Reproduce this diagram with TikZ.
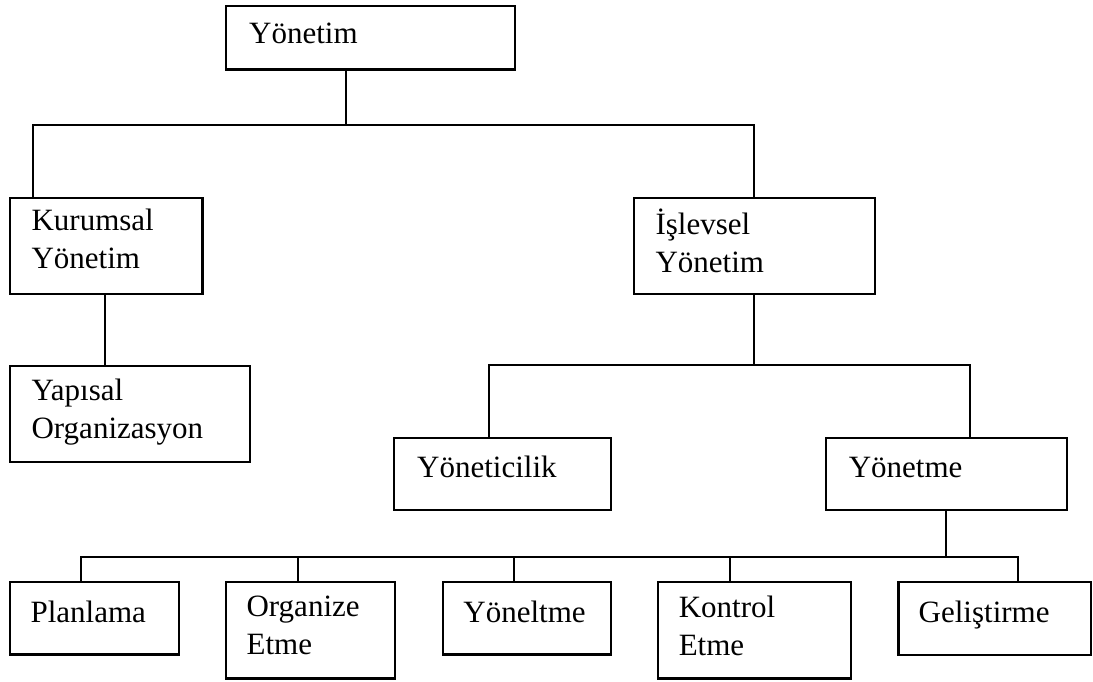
\documentclass[tikz,border=0pt]{standalone}
\usepackage{fontspec}
\setmainfont{Liberation Serif}
\usetikzlibrary{calc}
\begin{document}
\begin{tikzpicture}[x=1pt,y=-1pt,
  box/.style={draw=black, line width=2.4pt, anchor=north west, inner sep=0pt, rectangle},
  txt/.style={anchor=north west, inner sep=0pt, align=left,
    font=\fontsize{31}{38}\selectfont, execute at begin node=\strut},
  conn/.style={draw=black, line width=2pt}]
\fill[white] (0,0) rectangle (1093,682);
\useasboundingbox (0,0) rectangle (1093,682);

% boxes
\node[box, minimum width=288.6pt, minimum height=63.6pt] (top) at (225,4.7) {};
\node[box, minimum width=192.4pt, minimum height=96.3pt] (kur) at (9,196.7) {};
\node[box, minimum width=240.7pt, minimum height=96pt]   (isl) at (633,197) {};
\node[box, minimum width=240pt,   minimum height=96.3pt] (yap) at (9,364.7) {};
\node[box, minimum width=216.6pt, minimum height=72.3pt] (yci) at (392.9,436.7) {};
\node[box, minimum width=241pt,   minimum height=72pt]   (yme) at (825,437) {};
\node[box, minimum width=168.5pt, minimum height=72.6pt] (pla) at (9,580.7) {};
\node[box, minimum width=169pt,   minimum height=96.6pt] (org) at (225,580.7) {};
\node[box, minimum width=167.7pt, minimum height=72.6pt] (yol) at (441.8,580.7) {};
\node[box, minimum width=192.7pt, minimum height=96.6pt] (kon) at (657,580.7) {};
\node[box, minimum width=192.3pt, minimum height=73.3pt] (gel) at (897.3,580.7) {};

% labels
\node[txt] (top-t) at ($(top.north west)+(24,12)$) {Yönetim};
\node[txt] (kur-t) at ($(kur.north west)+(22.4,11.7)$) {Kurumsal\\Yönetim};
\node[txt] (isl-t) at ($(isl.north west)+(22.3,11.9)$) {İşlevsel\\Yönetim};
\node[txt] (yap-t) at ($(yap.north west)+(22.4,13.7)$) {Yapısal\\Organizasyon};
\node[txt] (yci-t) at ($(yci.north west)+(24.1,14)$) {Yöneticilik};
\node[txt] (yme-t) at ($(yme.north west)+(23.6,13.7)$) {Yönetme};
\node[txt] (pla-t) at ($(pla.north west)+(21.4,14.7)$) {Planlama};
\node[txt] (org-t) at ($(org.north west)+(21.4,14.7)$) {Organize\\Etme};
\node[txt] (yol-t) at ($(yol.north west)+(21.4,14.7)$) {Yöneltme};
\node[txt] (kon-t) at ($(kon.north west)+(21.6,14.7)$) {Kontrol\\Etme};
\node[txt] (gel-t) at ($(gel.north west)+(21.2,14.7)$) {Geliştirme};

% junctions of the connector buses
\coordinate (j1) at (345.7,124.7);
\coordinate (j2) at (753.8,364.7);
\coordinate (j3) at (945.6,557);

% connectors
\draw[conn] ($(top.south west)+(120.7,0)$) -- (j1);
\draw[conn] ($(kur.north west)+(24,0)$) |- (j1) -| ($(isl.north west)+(120.8,0)$);
\draw[conn] ($(kur.south west)+(96,0)$) -- ($(yap.north west)+(96,0)$);
\draw[conn] ($(isl.south west)+(120.8,0)$) -- (j2);
\draw[conn] ($(yci.north west)+(96.4,0)$) |- (j2) -| ($(yme.north west)+(144.6,0)$);
\draw[conn] ($(yme.south west)+(120.6,0)$) -- (j3);
\draw[conn] ($(pla.north west)+(72.4,0)$) |- (j3) -| ($(gel.north west)+(120.7,0)$);
\coordinate (o1) at ($(org.north west)+(72.5,0)$);
\coordinate (y1) at ($(yol.north west)+(71.8,0)$);
\coordinate (k1) at ($(kon.north west)+(72.8,0)$);
\draw[conn] (o1) -- (o1 |- j3);
\draw[conn] (y1) -- (y1 |- j3);
\draw[conn] (k1) -- (k1 |- j3);
\end{tikzpicture}
\end{document}
